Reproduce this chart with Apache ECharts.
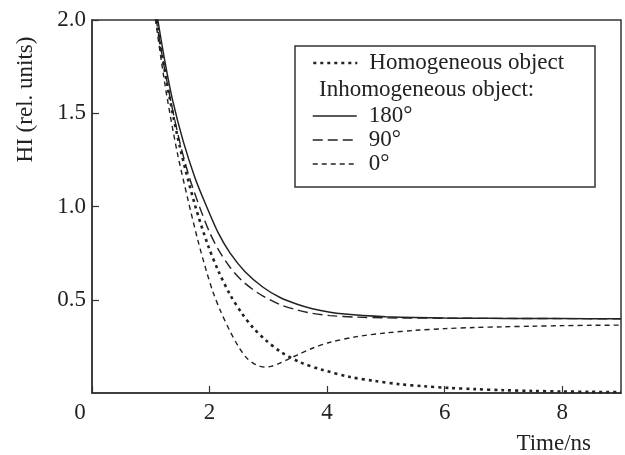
<!DOCTYPE html>
<html>
<head>
<meta charset="utf-8">
<script src="https://cdn.jsdelivr.net/npm/echarts@6/dist/echarts.min.js"></script>
<style>
  html, body { margin: 0; padding: 0; background: #fff; }
  #chart { width: 625px; height: 455px; }
</style>
</head>
<body>
<div id="chart"></div>
<script>
// Time axis (ns) and HI values (rel. units) for each curve
const homoTime = [1.05, 1.10, 1.20, 1.33, 1.50, 1.75, 1.97, 2.15, 2.35, 2.55, 2.74, 2.95, 3.20, 3.54, 3.90, 4.39, 4.80, 5.24, 5.65, 6.09, 6.50, 7.00, 7.50, 8.00, 8.50, 9.00];
const homoHI   = [2.108, 2.000, 1.799, 1.568, 1.313, 1.010, 0.795, 0.654, 0.527, 0.427, 0.350, 0.285, 0.223, 0.165, 0.126, 0.086, 0.065, 0.047, 0.036, 0.027, 0.021, 0.015, 0.011, 0.008, 0.006, 0.0045];

const deg180Time = [1.05, 1.12, 1.25, 1.37, 1.55, 1.75, 1.94, 2.15, 2.35, 2.60, 2.91, 3.20, 3.49, 3.75, 4.05, 4.30, 4.61, 5.00, 5.50, 6.00, 6.50, 7.00, 8.00, 9.00];
const deg180HI   = [2.145, 2.000, 1.761, 1.572, 1.352, 1.156, 1.007, 0.857, 0.750, 0.652, 0.567, 0.512, 0.476, 0.452, 0.433, 0.423, 0.415, 0.409, 0.405, 0.402, 0.401, 0.400, 0.399, 0.398];

const deg90Time = [1.05, 1.10, 1.20, 1.35, 1.50, 1.65, 1.84, 2.00, 2.15, 2.35, 2.55, 2.75, 2.91, 3.20, 3.49, 3.75, 4.05, 4.50, 5.00, 6.00, 7.00, 8.00, 9.00];
const deg90HI   = [2.096, 1.989, 1.797, 1.550, 1.337, 1.163, 0.989, 0.862, 0.769, 0.673, 0.603, 0.552, 0.520, 0.474, 0.445, 0.427, 0.415, 0.407, 0.403, 0.401, 0.400, 0.399, 0.398];

const deg0Time = [1.03, 1.08, 1.18, 1.28, 1.45, 1.63, 1.80, 1.95, 2.06, 2.20, 2.35, 2.50, 2.64, 2.80, 2.94, 3.05, 3.20, 3.35, 3.50, 3.75, 4.05, 4.50, 5.00, 5.50, 6.00, 6.50, 7.00, 7.50, 8.00, 8.50, 9.00];
const deg0HI   = [2.10, 2.00, 1.78, 1.58, 1.29, 1.04, 0.82, 0.65, 0.54, 0.43, 0.33, 0.245, 0.185, 0.150, 0.139, 0.143, 0.160, 0.183, 0.205, 0.240, 0.272, 0.302, 0.322, 0.336, 0.345, 0.351, 0.355, 0.358, 0.361, 0.363, 0.364];

const xTicks = [0, 2, 4, 6, 8];
const yTicks = [0.5, 1.0, 1.5, 2.0];

const FONT = '"Liberation Serif", "Times New Roman", serif';
const FS = 23;
const INK = '#222';

// line looks shared by each curve and its legend sample
const styles = {
  'Homogeneous object': { width: 2.6, type: [3, 4] },
  '180°': { width: 1.5, type: 'solid' },
  '90°': { width: 1.4, type: [10, 5] },
  '0°': { width: 1.4, type: [5, 4] }
};

function pairs(t, v) { return t.map((x, i) => [x, v[i]]); }

function curve(name, t, v) {
  return {
    name: name,
    type: 'line',
    data: pairs(t, v),
    smooth: 0.3,
    symbol: 'none',
    clip: true,
    lineStyle: { color: INK, width: styles[name].width, type: styles[name].type },
    itemStyle: { color: INK }
  };
}

function legendItem(name) {
  return {
    name: name,
    itemStyle: { opacity: 0 },
    lineStyle: { color: INK, width: styles[name].width, type: styles[name].type }
  };
}

const legendBase = {
  orient: 'vertical',
  left: 312,
  padding: 0,
  itemGap: 0,
  itemWidth: 44, itemHeight: 14,
  selectedMode: false,
  textStyle: { fontFamily: FONT, fontSize: FS, color: INK, lineHeight: 24, padding: [0, 0, 0, 7] }
};

const chart = echarts.init(document.getElementById('chart'), null, { renderer: 'canvas' });

chart.setOption({
  backgroundColor: '#fff',
  animation: false,
  textStyle: { fontFamily: FONT, color: INK },
  grid: {
    left: 92, right: 4, top: 20, bottom: 61,
    show: true, borderColor: '#333', borderWidth: 1.5
  },
  xAxis: {
    type: 'value',
    min: 0, max: 9, interval: 2,
    name: 'Time/ns',
    nameLocation: 'end',
    nameGap: -30,
    nameTextStyle: { fontFamily: FONT, fontSize: FS, color: INK, align: 'right', verticalAlign: 'top', padding: [39, 0, 0, 0] },
    axisLine: { lineStyle: { color: '#333', width: 1.5 } },
    axisTick: { inside: true, length: 7, lineStyle: { color: '#333', width: 1.2 } },
    splitLine: { show: false },
    axisLabel: {
      showMaxLabel: false,
      margin: 8,
      fontFamily: FONT, fontSize: FS, color: INK,
      formatter: function (v) { return v === xTicks[0] ? '{z|0}' : (xTicks.indexOf(v) >= 0 ? String(v) : ''); },
      rich: { z: { fontFamily: FONT, fontSize: FS, color: INK, padding: [0, 24, 0, 0] } }
    }
  },
  yAxis: {
    type: 'value',
    min: 0, max: 2, interval: 0.5,
    name: 'HI (rel. units)',
    nameLocation: 'middle',
    nameGap: 55,
    nameTextStyle: { fontFamily: FONT, fontSize: FS, color: INK, padding: [0, 0, 0, 214] },
    axisLine: { lineStyle: { color: '#333', width: 1.5 } },
    axisTick: { inside: true, length: 7, lineStyle: { color: '#333', width: 1.2 } },
    splitLine: { show: false },
    axisLabel: {
      showMinLabel: false,
      margin: 6,
      fontFamily: FONT, fontSize: FS, color: INK,
      formatter: function (v) { return yTicks.indexOf(v) >= 0 ? v.toFixed(1) : ''; }
    }
  },
  legend: [
    Object.assign({}, legendBase, { data: [legendItem('Homogeneous object')], top: 51 }),
    Object.assign({}, legendBase, { data: ['180°', '90°', '0°'].map(legendItem), top: 104 })
  ],
  graphic: [
    {
      type: 'rect',
      shape: { x: 295, y: 46, width: 300, height: 141 },
      style: { fill: 'none', stroke: '#333', lineWidth: 1.5 },
      silent: true
    },
    {
      type: 'text',
      x: 319, y: 90,
      style: { text: 'Inhomogeneous object:', font: FS + 'px ' + FONT, fill: INK, verticalAlign: 'middle' },
      silent: true
    }
  ],
  series: [
    curve('Homogeneous object', homoTime, homoHI),
    curve('180°', deg180Time, deg180HI),
    curve('90°', deg90Time, deg90HI),
    curve('0°', deg0Time, deg0HI)
  ]
});
</script>
</body>
</html>
